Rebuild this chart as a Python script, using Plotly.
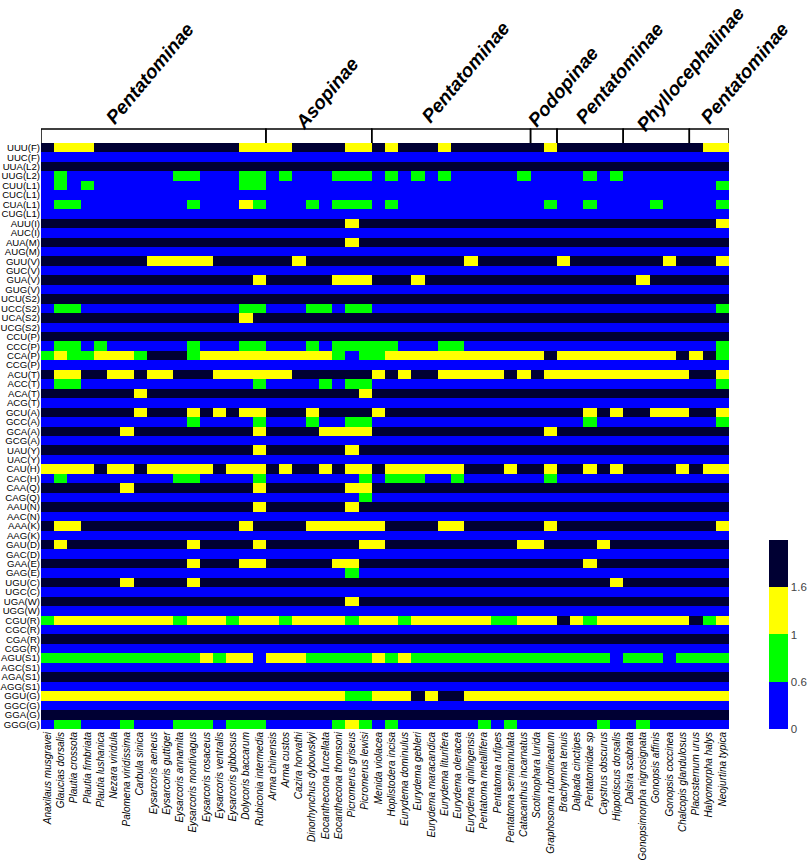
import numpy as np
import plotly.graph_objects as go

codons = ["UUU(F)", "UUC(F)", "UUA(L2)", "UUG(L2)", "CUU(L1)", "CUC(L1)", "CUA(L1)", "CUG(L1)",
          "AUU(I)", "AUC(I)", "AUA(M)", "AUG(M)", "GUU(V)", "GUC(V)", "GUA(V)", "GUG(V)",
          "UCU(S2)", "UCC(S2)", "UCA(S2)", "UCG(S2)", "CCU(P)", "CCC(P)", "CCA(P)", "CCG(P)",
          "ACU(T)", "ACC(T)", "ACA(T)", "ACG(T)", "GCU(A)", "GCC(A)", "GCA(A)", "GCG(A)",
          "UAU(Y)", "UAC(Y)", "CAU(H)", "CAC(H)", "CAA(Q)", "CAG(Q)", "AAU(N)", "AAC(N)",
          "AAA(K)", "AAG(K)", "GAU(D)", "GAC(D)", "GAA(E)", "GAG(E)", "UGU(C)", "UGC(C)",
          "UGA(W)", "UGG(W)", "CGU(R)", "CGC(R)", "CGA(R)", "CGG(R)", "AGU(S1)", "AGC(S1)",
          "AGA(S1)", "AGG(S1)", "GGU(G)", "GGC(G)", "GGA(G)", "GGG(G)"]

species = ["Anaxilaus musgravei", "Glaucias dorsalis", "Plautia crossota", "Plautia fimbriata",
           "Plautia lushanica", "Nezara viridula", "Palomena viridissima", "Carbula sinica",
           "Eysarcoris aeneus", "Eysarcoris guttiger", "Eysarcoris annamita", "Eysarcoris montivagus",
           "Eysarcoris rosaceus", "Eysarcoris ventralis", "Eysarcoris gibbosus", "Dolycoris baccarum",
           "Rubiconia intermedia", "Arma chinensis", "Arma custos", "Cazira horvathi",
           "Dinorhynchus dybowskyi", "Eocanthecona furcellata", "Eocanthecona thomsoni",
           "Picromerus griseus", "Picromerus lewisi", "Menida violacea", "Hoplistodera incisa",
           "Eurydema dominulus", "Eurydema gebleri", "Eurydema maracandica", "Eurydema liturifera",
           "Eurydema oleracea", "Eurydema qinlingensis", "Pentatoma metallifera", "Pentatoma rufipes",
           "Pentatoma semiannulata", "Catacanthus incarnatus", "Scotinophara lurida",
           "Graphosoma rubrolineatum", "Brachymna tenuis", "Dalpada cinctipes", "Pentatomidae sp",
           "Caystrus obscurus", "Hippotiscus dorsalis", "Dalsira scabrata",
           "Gonopsimorpha nigrosignata", "Gonopsis affinis", "Gonopsis coccinea",
           "Chalcopis glandulosus", "Placosternum urus", "Halyomorpha halys", "Neojurtina typica"]

# RSCU class of each cell (b <0.6, g 0.6-1, y 1-1.6, d >1.6)
cell_classes = [
    "dyyydddddd dddddyyyyd dddyydyddd ydddddddyd dddddddddd yy",  # UUU
    "bbbbbbbbbb bbbbbbbbbb bbbbbbbbbb bbbbbbbbbb bbbbbbbbbb bb",  # UUC
    "dddddddddd dddddddddd dddddddddd dddddddddd dddddddddd dd",  # UUA
    "bgbbbbbbbb ggbbbggbgb bbgggbgbgb gbbbbbgbbb bgbgbbbbbb bb",  # UUG
    "bgbgbbbbbb bbbbbggbbb bbbbbbbbbb bbbbbbbbbb bbbbbbbbbb bg",  # CUU
    "bbbbbbbbbb bbbbbbbbbb bbbbbbbbbb bbbbbbbbbb bbbbbbbbbb bb",  # CUC
    "bggbbbbbbb bgbbbygbbb gbgggbgbbb bbbbbbbbgb bgbbbbgbbb bg",  # CUA
    "bbbbbbbbbb bbbbbbbbbb bbbbbbbbbb bbbbbbbbbb bbbbbbbbbb bb",  # CUG
    "dddddddddd dddddddddd dddydddddd dddddddddd dddddddddd dy",  # AUU
    "bbbbbbbbbb bbbbbbbbbb bbbbbbbbbb bbbbbbbbbb bbbbbbbbbb bb",  # AUC
    "dddddddddd dddddddddd dddydddddd dddddddddd dddddddddd dd",  # AUA
    "bbbbbbbbbb bbbbbbbbbb bbbbbbbbbb bbbbbbbbbb bbbbbbbbbb bb",  # AUG
    "ddddddddyy yyyddddddy dddddddddd ddyddddddy dddddddydd dy",  # GUU
    "bbbbbbbbbb bbbbbbbbbb bbbbbbbbbb bbbbbbbbbb bbbbbbbbbb bb",  # GUC
    "dddddddddd ddddddyddd ddyyydddyd dddddddddd dddddydddd dd",  # GUA
    "bbbbbbbbbb bbbbbbbbbb bbbbbbbbbb bbbbbbbbbb bbbbbbbbbb bb",  # GUG
    "dddddddddd dddddddddd dddddddddd dddddddddd dddddddddd dd",  # UCU
    "bggbbbbbbb bbbbbggbbb ggbggbbbbb bbbbbbbbbb bbbbbbbbbb bg",  # UCC
    "dddddddddd dddddydddd dddddddddd dddddddddd dddddddddd dd",  # UCA
    "bbbbbbbbbb bbbbbbbbbb bbbbbbbbbb bbbbbbbbbb bbbbbbbbbb bb",  # UCG
    "dddddddddd dddddddddd dddddddddd dddddddddd dddddddddd dd",  # CCU
    "bggbgbbbbb bgbbbggbbb gbgggggbbb ggbbbbbbbb bbbbbbbbbb bg",  # CCC
    "gyggyyygdd dgyyyyyyyy yygbggyyyy yyyyyyyydy yyyyyyyydy dg",  # CCA
    "bbbbbbbbbb bbbbbbbbbb bbbbbbbbbb bbbbbbbbbb bbbbbbbbbb bb",  # CCG
    "dyyddyydyy dddyyyyyyd dddddydydd yyyyydydyy yyyyyyyyyd dy",  # ACU
    "bggbbbbbbb bbbbbbgbbb bgbggbbbbb bbbbbbbbbb bbbbbbbbbb bg",  # ACC
    "dddddddydd dddddddddd ddddyddddd dddddddddd dddddddddd dd",  # ACA
    "bbbbbbbbbb bbbbbbbbbb bbbbbbbbbb bbbbbbbbbb bbbbbbbbbb bb",  # ACG
    "dddddddydd dydydyyddd yddddydddd dddddddddd dydyddyyyd dy",  # GCU
    "bbbbbbbbbb bgbbbbgbbb gbbggbbbbb bbbbbbbbbb bgbbbbbbbb bg",  # GCC
    "ddddddyddd ddddddyddd dyyyyddddd ddddddddyd dddddddddd dd",  # GCA
    "bbbbbbbbbb bbbbbbbbbb bbbbbbbbbb bbbbbbbbbb bbbbbbbbbb bb",  # GCG
    "dddddddddd ddddddyddd dddydddddd dddddddddd dddddddddd dd",  # UAU
    "bbbbbbbbbb bbbbbbbbbb bbbbbbbbbb bbbbbbbbbb bbbbbbbbbb bb",  # UAC
    "yyyydyydyy yyydyyydyd dydyydyyyy yydddyddyd dydyddddyd yy",  # CAU
    "bgbbbbbbbb ggbbbbgbbb bbbbgbgggb bgbbbbbbgb bbbbbbbbbb bb",  # CAC
    "ddddddyddd ddddddyddd dddyyddddd dddddddddd dddddddddd dd",  # CAA
    "bbbbbbbbbb bbbbbbbbbb bbbbgbbbbb bbbbbbbbbb bbbbbbbbbb bb",  # CAG
    "dddddddddd ddddddyddd dddydddddd dddddddddd dddddddddd dd",  # AAU
    "bbbbbbbbbb bbbbbbbbbb bbbbbbbbbb bbbbbbbbbb bbbbbbbbbb bb",  # AAC
    "dyyddddddd dddddydddd yyyyyydddd yyddddddyd dddddddddd dy",  # AAA
    "bbbbbbbbbb bbbbbbbbbb bbbbbbbbbb bbbbbbbbbb bbbbbbbbbb bb",  # AAG
    "dydddddddd dyddddyddd ddddyydddd ddddddyydd ddyddddddd dd",  # GAU
    "bbbbbbbbbb bbbbbbbbbb bbbbbbbbbb bbbbbbbbbb bbbbbbbbbb bb",  # GAC
    "dddddddddd dydddyyddd ddyydddddd dddddddddd dydddddddd dd",  # GAA
    "bbbbbbbbbb bbbbbbbbbb bbbgbbbbbb bbbbbbbbbb bbbbbbbbbb bb",  # GAG
    "ddddddyddd dydddddddd dddddddddd dddddddddd dddydddddd dd",  # UGU
    "bbbbbbbbbb bbbbbbbbbb bbbbbbbbbb bbbbbbbbbb bbbbbbbbbb bb",  # UGC
    "dddddddddd dddddddddd dddydddddd dddddddddd dddddddddd dd",  # UGA
    "bbbbbbbbbb bbbbbbbbbb bbbbbbbbbb bbbbbbbbbb bbbbbbbbbb bb",  # UGG
    "gyyyyyyyyy gyyygyyygy yyygyyygyy yyyyggyyyd ygyyyyyyyd gy",  # CGU
    "bbbbbbbbbb bbbbbbbbbb bbbbbbbbbb bbbbbbbbbb bbbbbbbbbb bb",  # CGC
    "dddddddddd dddddddddd dddddddddd dddddddddd dddddddddd dd",  # CGA
    "bbbbbbbbbb bbbbbbbbbb bbbbbbbbbb bbbbbbbbbb bbbbbbbbbb bb",  # CGG
    "gggggggggg ggygyybyyy gggggygygg gggggggggg gggbgggbgg gg",  # AGU
    "bbbbbbbbbb bbbbbbbbbb bbbbbbbbbb bbbbbbbbbb bbbbbbbbbb bb",  # AGC
    "dddddddddd dddddddddd dddddddddd dddddddddd dddddddddd dd",  # AGA
    "bbbbbbbbbb bbbbbbbbbb bbbbbbbbbb bbbbbbbbbb bbbbbbbbbb bb",  # AGG
    "yyyyyyyyyy yyyyyyyyyy yyyggyyydy ddyyyyyyyy yyyyyyyyyy yy",  # GGU
    "bbbbbbbbbb bbbbbbbbbb bbbbbbbbbb bbbbbbbbbb bbbbbbbbbb bb",  # GGC
    "dddddddddd dddddddddd dddddddddd dddddddddd dddddddddd dd",  # GGA
    "bggbbbgbbb gggbgggbbb bbgygbgbbb bbbgbgbbbb bbgbbgbbbb bb",  # GGG
]

# estimated RSCU value for each class
class_rscu = {"b": 0.35, "g": 0.8, "y": 1.3, "d": 2.2}

# colour bins
bin_edges = [0.6, 1.0, 1.6]
bin_labels = ["0", "0.6", "1", "1.6"]
bin_colors = ["#0000FF", "#00FF00", "#FFFF00", "#000033"]

# subfamily groups: (label, first column, last column, label centre px x, px y)
groups = [("Pentatominae", 0, 16, 150, 74),
          ("Asopinae", 17, 24, 327, 94),
          ("Pentatominae", 25, 36, 465, 72),
          ("Podopinae", 37, 38, 563, 86),
          ("Pentatominae", 39, 43, 619, 73),
          ("Phyllocephalinae", 44, 48, 691, 69),
          ("Pentatominae", 49, 51, 744, 73)]

rscu = np.array([[class_rscu[c] for c in row.replace(" ", "")] for row in cell_classes])
zbin = np.digitize(rscu, bin_edges)

W, H = 809, 866
L, R, T, B = 41, 80, 143, 137
pw, ph = W - L - R, H - T - B

cs = []
n = len(bin_colors)
for i, c in enumerate(bin_colors):
    cs.append([i / n, c])
    cs.append([(i + 1) / n, c])

fig = go.Figure(go.Heatmap(
    z=zbin, x=list(range(len(species))), y=list(range(len(codons))),
    customdata=rscu,
    hovertemplate="%{customdata:.2f}<extra></extra>",
    colorscale=cs, zmin=-0.5, zmax=n - 0.5,
    colorbar=dict(
        tickmode="array", tickvals=[i - 0.5 for i in range(n)], ticktext=bin_labels,
        ticks="", outlinewidth=0, thickness=19, lenmode="pixels", len=189,
        x=(769 - L) / pw, xanchor="left", xpad=0,
        y=0, yanchor="bottom", ypad=0,
        tickfont=dict(family="Liberation Sans, Arial", size=11.5, color="#444"),
    ),
))

shapes = []
ytop = 1 + (T - 129) / ph
for (_, a, b, _, _) in groups:
    shapes.append(dict(type="path", xref="x", yref="paper",
                       path=f"M {a - 0.5} 1 L {a - 0.5} {ytop} L {b + 0.5} {ytop} L {b + 0.5} 1",
                       line=dict(color="black", width=1.5)))

annotations = []
for (lab, a, b, cx, cy) in groups:
    annotations.append(dict(text=f"<b><i>{lab}</i></b>", xref="paper", yref="paper",
                            x=(cx - L) / pw, y=(H - B - cy) / ph, xanchor="center",
                            yanchor="middle", showarrow=False, textangle=-50,
                            font=dict(family="Liberation Sans, Arial", size=19, color="black")))

fig.update_layout(
    width=W, height=H, margin=dict(l=L, r=R, t=T, b=B, autoexpand=False),
    paper_bgcolor="white", plot_bgcolor="white",
    shapes=shapes, annotations=annotations,
    xaxis=dict(tickmode="array", tickvals=list(range(len(species))), ticktext=species,
               tickangle=-90, ticks="", showgrid=False, zeroline=False, automargin=False,
               range=[-0.5, len(species) - 0.5],
               tickfont=dict(family="Liberation Sans, Arial", size=10, color="black", style="italic")),
    yaxis=dict(tickmode="array", tickvals=list(range(len(codons))), ticktext=codons,
               autorange=False, range=[len(codons) - 0.5, -0.5], ticks="", automargin=False,
               showgrid=False, zeroline=False,
               tickfont=dict(family="Liberation Sans, Arial", size=9.6, color="black")),
)

# place the figure at the page's top-left corner (no default body margin)
fig.write_html("out.html", config={"displayModeBar": False},
               post_script="document.body.style.margin='0';document.body.style.overflow='hidden';")
